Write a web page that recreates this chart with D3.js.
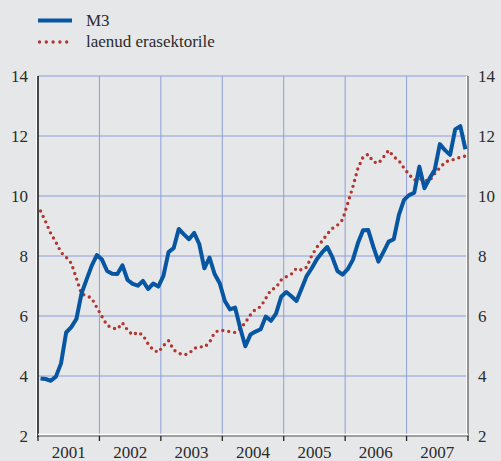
<!DOCTYPE html>
<html>
<head>
<meta charset="utf-8">
<script src="https://cdn.jsdelivr.net/npm/d3@7"></script>
<style>
  html, body { margin: 0; padding: 0; background: #e6e7e9; }
  svg { display: block; }
</style>
</head>
<body>
<script>
var years = ["2001", "2002", "2003", "2004", "2005", "2006", "2007"];
var yTicks = [2, 4, 6, 8, 10, 12, 14];

// monthly values, Jan 2001 .. Dec 2007
var m3 = [3.92, 3.9, 3.84, 3.98, 4.42, 5.45, 5.63, 5.9, 6.75, 7.22, 7.68, 8.03,
  7.88, 7.5, 7.41, 7.4, 7.69, 7.2, 7.07, 7.01, 7.17, 6.9, 7.08, 6.98,
  7.34, 8.13, 8.26, 8.9, 8.72, 8.56, 8.77, 8.4, 7.59, 7.95, 7.4, 7.09,
  6.5, 6.22, 6.28, 5.6, 4.99, 5.38, 5.48, 5.56, 5.98, 5.84, 6.08, 6.64,
  6.8, 6.66, 6.5, 6.92, 7.34, 7.6, 7.9, 8.12, 8.3, 7.96, 7.5, 7.38,
  7.56, 7.87, 8.43, 8.86, 8.87, 8.31, 7.81, 8.14, 8.48, 8.56, 9.37, 9.87,
  10.03, 10.11, 10.98, 10.26, 10.59, 10.87, 11.73, 11.53, 11.37, 12.22, 12.33, 11.56];

var loans = [9.5, 9.14, 8.75, 8.46, 8.12, 7.96, 7.76, 7.26, 6.73, 6.68, 6.59, 6.28,
  5.98, 5.69, 5.6, 5.56, 5.77, 5.53, 5.37, 5.46, 5.36, 5.07, 4.87, 4.79,
  5.01, 5.18, 4.87, 4.76, 4.7, 4.75, 4.92, 4.98, 4.96, 5.12, 5.45, 5.53,
  5.51, 5.48, 5.45, 5.57, 5.78, 6.04, 6.23, 6.31, 6.59, 6.87, 6.95, 7.2,
  7.31, 7.4, 7.59, 7.53, 7.63, 8.02, 8.3, 8.5, 8.73, 8.92, 9.03, 9.21,
  9.75, 10.3, 10.92, 11.3, 11.39, 11.14, 11.09, 11.3, 11.52, 11.31, 11.18, 10.93,
  10.71, 10.53, 10.58, 10.53, 10.5, 10.75, 10.94, 11.12, 11.2, 11.22, 11.3, 11.33];

var seriesNames = ["M3", "laenud erasektorile"];

var width = 501, height = 461;
var margin = {top: 76, right: 33, bottom: 25, left: 38};
var blue = "#0656a2", red = "#b2362f", grid = "#8c9fd9";
var serif = "'Liberation Serif', 'Times New Roman', 'DejaVu Serif', serif";

var svg = d3.select("body").append("svg")
  .attr("width", width)
  .attr("height", height)
  .attr("font-family", serif);

var x = d3.scaleLinear().domain([0, years.length * 12]).range([margin.left, width - margin.right]);
var y = d3.scaleLinear().domain([2, 14]).range([height - margin.bottom, margin.top]);

// grid
svg.selectAll(".hgrid")
  .data(yTicks.filter(function(d) { return d > 2; }))
  .enter().append("line")
  .attr("x1", x(0)).attr("x2", x(84))
  .attr("y1", function(d) { return y(d); })
  .attr("y2", function(d) { return y(d); })
  .attr("stroke", grid).attr("stroke-width", 1);

svg.selectAll(".vgrid")
  .data(d3.range(1, years.length))
  .enter().append("line")
  .attr("x1", function(d) { return x(d * 12); })
  .attr("x2", function(d) { return x(d * 12); })
  .attr("y1", y(14)).attr("y2", y(2))
  .attr("stroke", grid).attr("stroke-width", 1);

// axes frame
svg.append("line").attr("x1", x(0) - 1.5).attr("x2", x(0) - 1.5).attr("y1", y(14)).attr("y2", y(2) + 1)
  .attr("stroke", "#ffffff").attr("stroke-width", 1);
svg.append("line").attr("x1", x(0)).attr("x2", x(0)).attr("y1", y(14)).attr("y2", y(2) + 1)
  .attr("stroke", "#111").attr("stroke-width", 1.5);
svg.append("line").attr("x1", x(84) - 1.5).attr("x2", x(84) - 1.5).attr("y1", y(14)).attr("y2", y(2))
  .attr("stroke", "#ffffff").attr("stroke-width", 1);
svg.append("line").attr("x1", x(84)).attr("x2", x(84)).attr("y1", y(14)).attr("y2", y(2) + 1)
  .attr("stroke", "#777").attr("stroke-width", 1.5);
svg.append("line").attr("x1", x(0)).attr("x2", x(84)).attr("y1", y(2) - 1.5).attr("y2", y(2) - 1.5)
  .attr("stroke", "#ffffff").attr("stroke-width", 1.5);
svg.append("line").attr("x1", x(0)).attr("x2", x(84)).attr("y1", y(2)).attr("y2", y(2))
  .attr("stroke", "#555").attr("stroke-width", 1.2);

svg.selectAll(".xtick")
  .data(d3.range(0, years.length + 1))
  .enter().append("line")
  .attr("x1", function(d) { return x(d * 12); })
  .attr("x2", function(d) { return x(d * 12); })
  .attr("y1", y(2)).attr("y2", y(2) + 5)
  .attr("stroke", "#222").attr("stroke-width", 1.3);

// y labels
svg.selectAll(".ylabL")
  .data(yTicks).enter().append("text")
  .attr("x", margin.left - 10)
  .attr("y", function(d) { return y(d); })
  .attr("dy", "0.33em")
  .attr("text-anchor", "end")
  .attr("font-size", "17px")
  .attr("fill", "#2b2b2b")
  .text(function(d) { return d; });

svg.selectAll(".ylabR")
  .data(yTicks).enter().append("text")
  .attr("x", width - margin.right + 10)
  .attr("y", function(d) { return y(d); })
  .attr("dy", "0.33em")
  .attr("text-anchor", "start")
  .attr("font-size", "17px")
  .attr("fill", "#2b2b2b")
  .text(function(d) { return d; });

// x labels
svg.selectAll(".xlab")
  .data(years).enter().append("text")
  .attr("x", function(d, i) { return x(i * 12 + 6); })
  .attr("y", height - 3)
  .attr("text-anchor", "middle")
  .attr("font-size", "17px")
  .attr("fill", "#2b2b2b")
  .text(function(d) { return d; });

// lines
var line = d3.line()
  .x(function(d, i) { return x(i + 0.5); })
  .y(function(d) { return y(d); });

svg.append("path")
  .datum(loans)
  .attr("d", line)
  .attr("fill", "none")
  .attr("stroke", red)
  .attr("stroke-width", 3.4)
  .attr("stroke-linecap", "round")
  .attr("stroke-dasharray", "0,6");

svg.append("path")
  .datum(m3)
  .attr("d", line)
  .attr("fill", "none")
  .attr("stroke", blue)
  .attr("stroke-width", 4)
  .attr("stroke-linejoin", "round");

// legend
var legend = svg.append("g");
legend.append("line")
  .attr("x1", 38).attr("x2", 72).attr("y1", 20.5).attr("y2", 20.5)
  .attr("stroke", blue).attr("stroke-width", 4);
legend.append("line")
  .attr("x1", 39.5).attr("x2", 73).attr("y1", 42).attr("y2", 42)
  .attr("stroke", red).attr("stroke-width", 3.4)
  .attr("stroke-linecap", "round").attr("stroke-dasharray", "0,6.8");
legend.selectAll("text")
  .data(seriesNames).enter().append("text")
  .attr("x", 86)
  .attr("y", function(d, i) { return 26 + i * 21; })
  .attr("font-size", "17px")
  .attr("fill", "#2b2b2b")
  .text(function(d) { return d; });
</script>
</body>
</html>
